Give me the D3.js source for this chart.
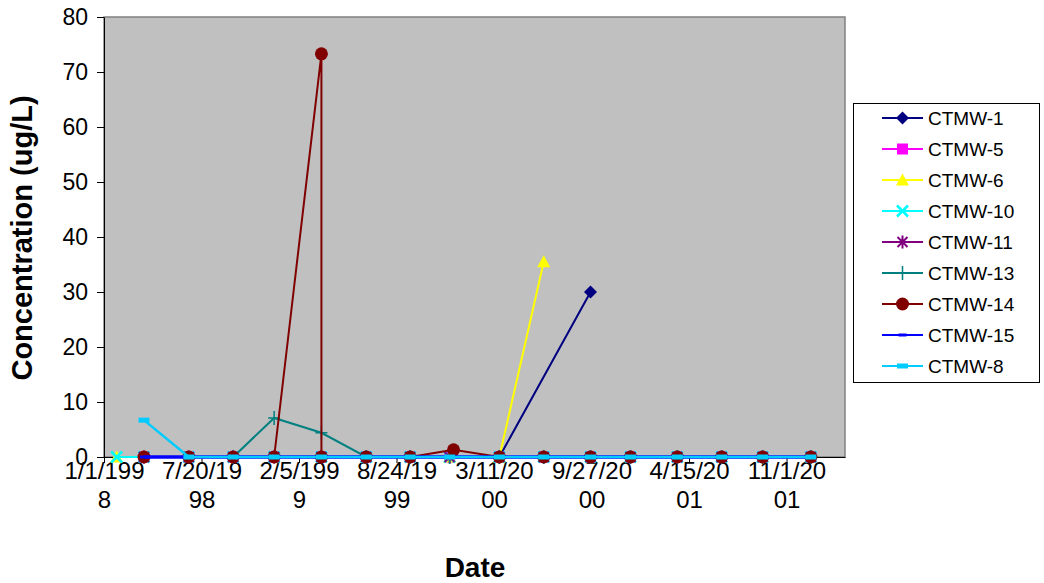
<!DOCTYPE html>
<html>
<head>
<meta charset="utf-8">
<script src="https://cdn.jsdelivr.net/npm/d3@7/dist/d3.min.js"></script>
<style>
  html, body { margin: 0; padding: 0; background: #ffffff; }
  svg { display: block; font-family: Arial, "Liberation Sans", sans-serif; }
</style>
</head>
<body>
<svg id="chart" width="1044" height="583"></svg>
<script>
// ---- data ----
const sampleDates = ["1998-01-27","1998-03-24","1998-06-24","1998-09-23","1998-12-16","1999-03-23","1999-03-23","1999-06-23","1999-09-21","1999-12-11","1999-12-19","2000-03-22","2000-06-21","2000-09-25","2000-12-16","2001-03-22","2001-06-21","2001-09-13","2001-12-21"];
const seriesNames = ["CTMW-1","CTMW-5","CTMW-6","CTMW-10","CTMW-11","CTMW-13","CTMW-14","CTMW-15","CTMW-8"];
const ctmw1  = [null,0,0,0,0,0,null,0,0,0,null,0,null,30,null,null,null,null,null];
const ctmw5  = [null,0,0,0,0,0,null,0,0,0,null,0,0,0,0,0,0,0,0];
const ctmw6  = [0,null,null,null,null,null,null,null,null,0,null,0,35.5,null,null,null,null,null,null];
const ctmw10 = [0,0,0,0,0,0,null,0,0,0,null,0,0,0,0,0,0,0,0];
const ctmw11 = [null,0,0,0,0,0,null,0,0,0,null,0,0,0,0,0,0,0,0];
const ctmw13 = [null,null,null,0,7.1,4.4,null,0,0,0,null,0,0,0,0,0,0,0,0];
const ctmw14 = [null,0,0,0,0,73.3,0,0,0,null,1.3,0,0,0,0,0,0,0,0];
const ctmw15 = [null,0,0,0,0,0,null,0,0,0,null,0,0,0,0,0,0,0,0];
const ctmw8  = [null,6.7,0,0,0,0,null,0,0,0,null,0,0,0,0,0,0,0,0];
const yTicks = [0,10,20,30,40,50,60,70,80];
const xTickDates = ["1998-01-01","1998-07-20","1999-02-05","1999-08-24","2000-03-11","2000-09-27","2001-04-15","2001-11-01"];
const xDomain = ["1998-01-01","2002-03-01"];

// ---- styles ----
const colors  = ["#000080","#FF00FF","#FFFF00","#00FFFF","#800080","#008080","#800000","#0000FF","#00CCFF"];
const markers = ["diamond","square","triangle","x","asterisk","plus","circle","smalldash","dash"];
const valuesList = [ctmw1,ctmw5,ctmw6,ctmw10,ctmw11,ctmw13,ctmw14,ctmw15,ctmw8];

const parse = d3.utcParse("%Y-%m-%d");
const fmt = d3.utcFormat("%-m/%-d/%Y");

const svg = d3.select("#chart");
const L = 104, T = 17, R = 845, B = 457;

const x = d3.scaleUtc().domain(xDomain.map(parse)).range([L, R]);
const y = d3.scaleLinear().domain([0, 80]).range([B, T]);

// plot area
svg.append("rect").attr("x", L).attr("y", T).attr("width", R - L).attr("height", B - T)
  .attr("fill", "#C0C0C0").attr("stroke", "#808080").attr("stroke-width", 1.5);

// y axis
const yAxis = svg.append("g").attr("transform", `translate(${L},0)`)
  .call(d3.axisLeft(y).tickValues(yTicks).tickSize(7).tickSizeOuter(0).tickPadding(9));
yAxis.selectAll("text").attr("font-size", 23).attr("fill", "#000");
yAxis.select(".domain").attr("stroke", "#000");

// x axis
const xAxis = svg.append("g").attr("transform", `translate(0,${B})`)
  .call(d3.axisBottom(x).tickValues(xTickDates.map(parse)).tickSize(6).tickSizeOuter(0).tickFormat(""));
xAxis.select(".domain").attr("stroke", "#000");
xAxis.selectAll(".tick").each(function(d) {
  const s = fmt(d);
  const parts = [s.slice(0, 7), s.slice(7)];
  const t = d3.select(this).append("text").attr("fill", "#000").attr("font-size", 24)
    .attr("text-anchor", "middle");
  parts.forEach((p, i) => t.append("tspan").attr("x", 0).attr("y", 22 + i * 29).text(p));
});

// series
svg.append("clipPath").attr("id", "clip").append("rect")
  .attr("x", L).attr("y", T - 10).attr("width", R - L).attr("height", B - T + 20);

function drawMarker(g, type, color, cx, cy) {
  const s = 6.5;
  switch (type) {
    case "diamond":
      g.append("path").attr("d", `M${cx},${cy-s}L${cx+s},${cy}L${cx},${cy+s}L${cx-s},${cy}Z`).attr("fill", color); break;
    case "square":
      g.append("rect").attr("x", cx-5.5).attr("y", cy-5.5).attr("width", 11).attr("height", 11).attr("fill", color); break;
    case "triangle":
      g.append("path").attr("d", `M${cx},${cy-6.5}L${cx+6.5},${cy+5.5}L${cx-6.5},${cy+5.5}Z`).attr("fill", color); break;
    case "x":
      g.append("path").attr("d", `M${cx-5.5},${cy-5.5}L${cx+5.5},${cy+5.5}M${cx+5.5},${cy-5.5}L${cx-5.5},${cy+5.5}`).attr("stroke", color).attr("stroke-width", 2.5); break;
    case "asterisk":
      g.append("path").attr("d", `M${cx-5},${cy-5}L${cx+5},${cy+5}M${cx+5},${cy-5}L${cx-5},${cy+5}M${cx},${cy-6.5}L${cx},${cy+6.5}`).attr("stroke", color).attr("stroke-width", 2); break;
    case "plus":
      g.append("path").attr("d", `M${cx-6},${cy}L${cx+6},${cy}M${cx},${cy-7}L${cx},${cy+7}`).attr("stroke", color).attr("stroke-width", 1.5); break;
    case "circle":
      g.append("circle").attr("cx", cx).attr("cy", cy).attr("r", 6.5).attr("fill", color); break;
    case "smalldash":
      g.append("rect").attr("x", cx-4).attr("y", cy-1.5).attr("width", 8).attr("height", 3).attr("fill", color); break;
    case "dash":
      g.append("rect").attr("x", cx-5.5).attr("y", cy-2.5).attr("width", 11).attr("height", 5).attr("fill", color); break;
  }
}

const line = d3.line().x(d => x(d.date)).y(d => y(d.value));
const seriesG = svg.append("g").attr("clip-path", "url(#clip)");
valuesList.forEach((vals, i) => {
  const pts = vals.map((v, j) => ({ date: parse(sampleDates[j]), value: v })).filter(d => d.value !== null);
  const g = seriesG.append("g");
  g.append("path").datum(pts).attr("d", line).attr("fill", "none")
    .attr("stroke", colors[i]).attr("stroke-width", i === 7 ? 3.5 : (i === 8 ? 2.5 : 2));
  pts.forEach(p => drawMarker(g, markers[i], colors[i], x(p.date), y(p.value)));
});

// legend
const lg = svg.append("g");
lg.append("rect").attr("x", 853.5).attr("y", 103.5).attr("width", 186).attr("height", 279)
  .attr("fill", "#fff").attr("stroke", "#000").attr("stroke-width", 1);
seriesNames.forEach((name, i) => {
  const cy = 118 + i * 31;
  lg.append("line").attr("x1", 882).attr("x2", 923).attr("y1", cy).attr("y2", cy)
    .attr("stroke", colors[i]).attr("stroke-width", 2);
  drawMarker(lg, markers[i], colors[i], 902.5, cy);
  lg.append("text").attr("x", 928).attr("y", cy).attr("dy", "0.36em")
    .attr("font-size", 19).attr("fill", "#000").text(name);
});

// titles
svg.append("text").attr("transform", "translate(32,238) rotate(-90)")
  .attr("text-anchor", "middle").attr("font-size", 29).attr("font-weight", "bold")
  .attr("fill", "#000").text("Concentration (ug/L)");
svg.append("text").attr("x", 475).attr("y", 577)
  .attr("text-anchor", "middle").attr("font-size", 28).attr("font-weight", "bold")
  .attr("fill", "#000").text("Date");
</script>
</body>
</html>
